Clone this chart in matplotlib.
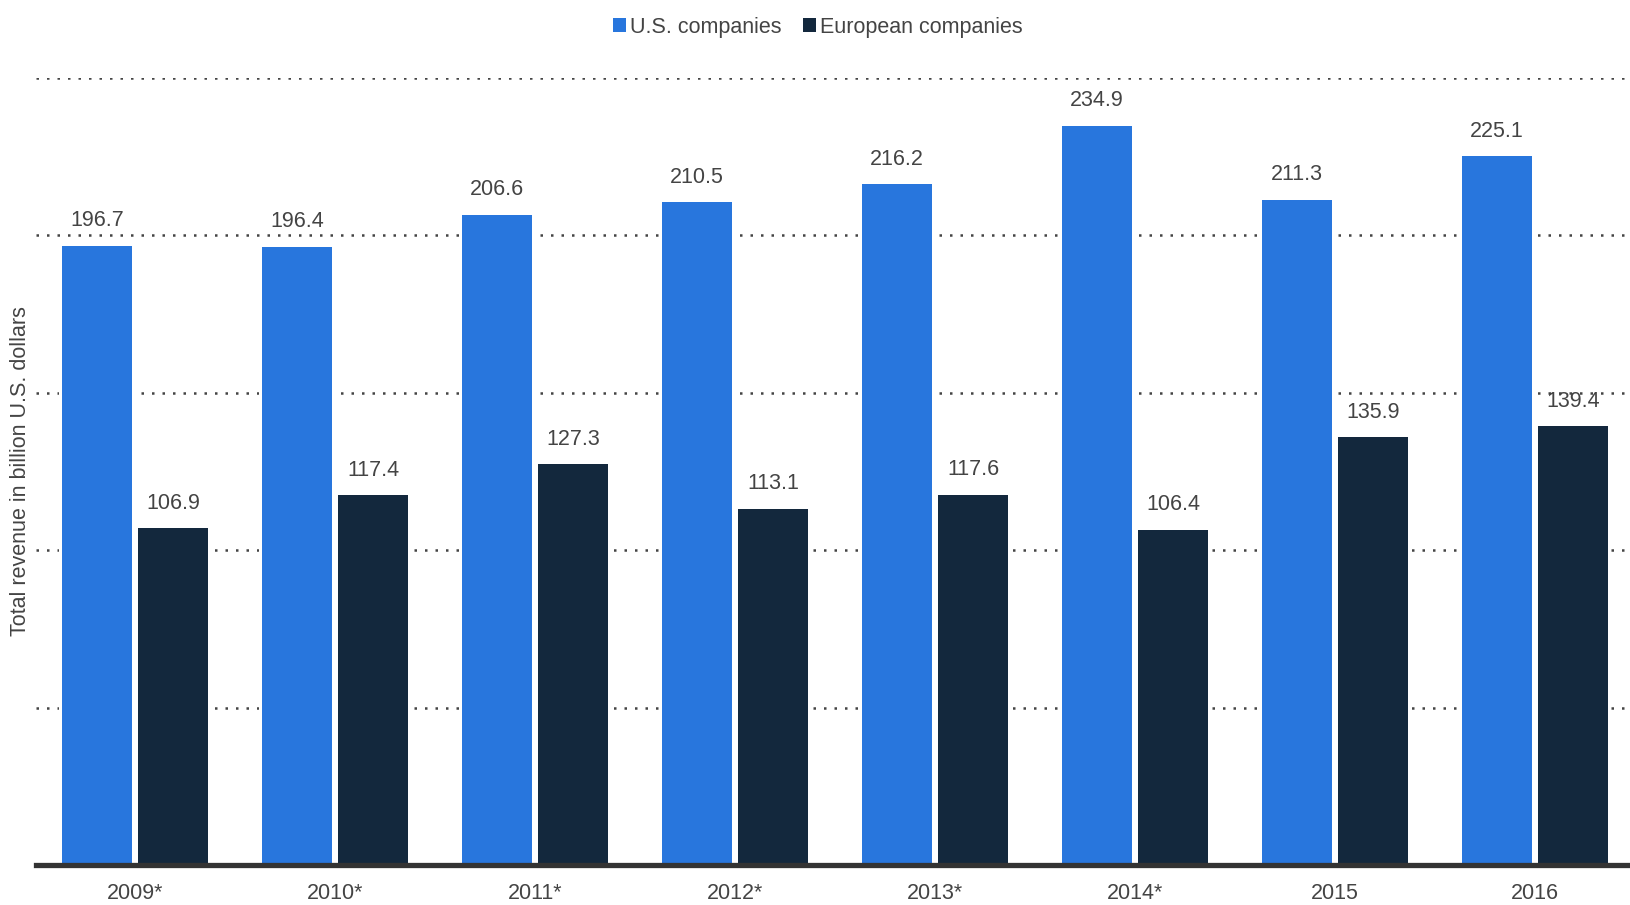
import matplotlib
matplotlib.use("Agg")
import matplotlib.pyplot as plt
import numpy as np

categories = ["2009*", "2010*", "2011*", "2012*", "2013*", "2014*", "2015", "2016"]
us_values = [196.7, 196.4, 206.6, 210.5, 216.2, 234.9, 211.3, 225.1]
eu_values = [106.9, 117.4, 127.3, 113.1, 117.6, 106.4, 135.9, 139.4]
series_names = ["U.S. companies", "European companies"]
y_label = "Total revenue in billion U.S. dollars"

plt.rcParams['font.family'] = ['Liberation Sans', 'DejaVu Sans']

BLUE = "#2876dd"
NAVY = "#13283d"
TXT = "#444444"

fig = plt.figure(figsize=(16.30, 9.05), dpi=100)
ax = fig.add_axes([36/1630, 40/905, 1 - 36/1630, (865-78)/905])

x = np.arange(len(categories))
w = 0.353
off = 0.19

# white underlays to break gridlines around bars
ax.bar(x - off, us_values, w + 0.03, color="white", zorder=2)
ax.bar(x + off, eu_values, w + 0.03, color="white", zorder=2)
b1 = ax.bar(x - off, us_values, w, color=BLUE, zorder=3, label=series_names[0])
b2 = ax.bar(x + off, eu_values, w, color=NAVY, zorder=3, label=series_names[1])

for xi, v in zip(x - off, us_values):
    ax.annotate(f"{v:.1f}", (xi, v), xytext=(0, 10.5), textcoords="offset points",
                ha="center", va="bottom", fontsize=15.5, color=TXT, zorder=4)
for xi, v in zip(x + off, eu_values):
    ax.annotate(f"{v:.1f}", (xi, v), xytext=(0, 10.5), textcoords="offset points",
                ha="center", va="bottom", fontsize=15.5, color=TXT, zorder=4)

ax.set_xlim(-0.495, 7.475)
ax.set_ylim(0, 250)
ax.set_yticks([0, 50, 100, 150, 200, 250])
ax.yaxis.grid(True, linestyle=(0, (1, 3.2)), linewidth=1.8, color="#444444", zorder=1)
ax.set_axisbelow(True)
ax.tick_params(axis="y", length=0, labelleft=False)
ax.set_xticks(x)
ax.set_xticklabels(categories, fontsize=15.5, color=TXT)
ax.tick_params(axis="x", length=0, pad=13)

for s in ["top", "right", "left"]:
    ax.spines[s].set_visible(False)
ax.spines["bottom"].set_color("#333333")
ax.spines["bottom"].set_linewidth(3.8)
ax.spines["bottom"].set_zorder(5)

fig.text(21/1630, 1 - 471/905, y_label, rotation=90, ha="center", va="center",
         fontsize=15.5, color=TXT)

leg = fig.legend(handles=[b1, b2], labels=series_names, loc="center",
                 bbox_to_anchor=(818/1630, 1 - 27/905), ncol=2, frameon=False,
                 fontsize=15.5, handlelength=0.6, handleheight=0.6,
                 handletextpad=0.2, columnspacing=1.0, labelcolor=TXT)

fig.savefig("out.png", dpi=100)
